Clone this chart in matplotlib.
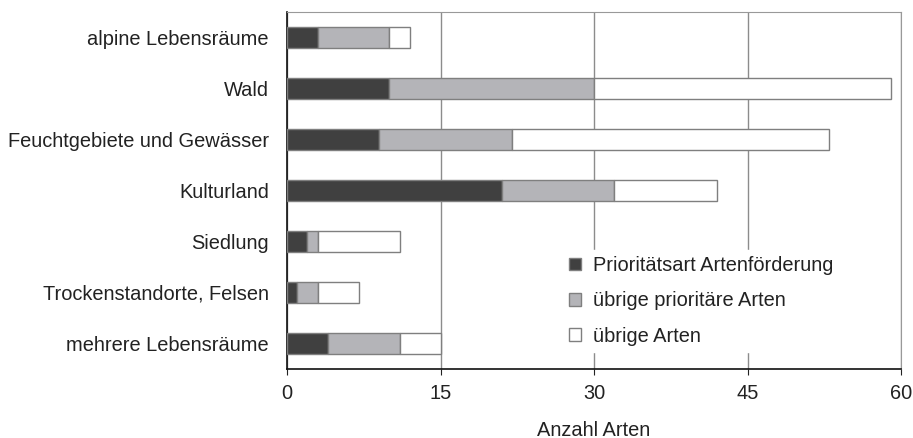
import matplotlib.pyplot as plt
import numpy as np

plt.rcParams['font.family'] = ['Liberation Sans', 'DejaVu Sans']

# Daten
kategorien = ["alpine Lebensräume", "Wald", "Feuchtgebiete und Gewässer", "Kulturland",
              "Siedlung", "Trockenstandorte, Felsen", "mehrere Lebensräume"]
prioritaet_foerderung = [3, 10, 9, 21, 2, 1, 4]
uebrige_prioritaer = [7, 20, 13, 11, 1, 2, 7]
uebrige_arten = [2, 29, 31, 10, 8, 4, 4]
x_ticks = [0, 15, 30, 45, 60]

fs = 14.4

fig = plt.figure(figsize=(9.13, 4.38), dpi=100)
ax = fig.add_axes([287 / 913, 1 - 369 / 438, 614 / 913, 357 / 438])

y = np.arange(len(kategorien))
a = np.array(prioritaet_foerderung)
b = np.array(uebrige_prioritaer)
c = np.array(uebrige_arten)
h = 0.4
kw = dict(height=h, edgecolor="#7f7f7f", linewidth=1, zorder=3)
ax.barh(y, a, color="#404040", label="Prioritätsart Artenförderung", **kw)
ax.barh(y, b, left=a, color="#b4b4b8", label="übrige prioritäre Arten", **kw)
ax.barh(y, c, left=a + b, color="white", label="übrige Arten", **kw)

ax.set_xlim(0, 60)
ax.set_ylim(len(kategorien) - 0.5, -0.5)
ax.set_xticks(x_ticks)
ax.set_yticks(y)
ax.set_yticklabels(kategorien)
ax.tick_params(axis="both", labelsize=fs, colors="#222222")
ax.tick_params(axis="y", length=0, pad=13)
ax.tick_params(axis="x", length=4.5, pad=6, color="#222222")
ax.xaxis.grid(True, color="#8c8c8c", linewidth=1, zorder=0)
ax.set_axisbelow(True)
for s in ["top", "right"]:
    ax.spines[s].set_color("#999999")
for s in ["left", "bottom"]:
    ax.spines[s].set_color("#111111")
    ax.spines[s].set_linewidth(1.2)

ax.set_xlabel("Anzahl Arten", fontsize=fs, color="#222222", labelpad=13)

leg = ax.legend(loc="lower left", bbox_to_anchor=(0.434, 0.02), frameon=True,
                fontsize=fs, handlelength=0.6, handleheight=0.6,
                handletextpad=0.6, labelspacing=0.82, borderpad=0.3)
leg.get_frame().set_edgecolor("white")
leg.get_frame().set_facecolor("white")
leg.get_frame().set_alpha(1)
for t in leg.get_texts():
    t.set_color("#222222")

fig.savefig("out.png", dpi=100)
